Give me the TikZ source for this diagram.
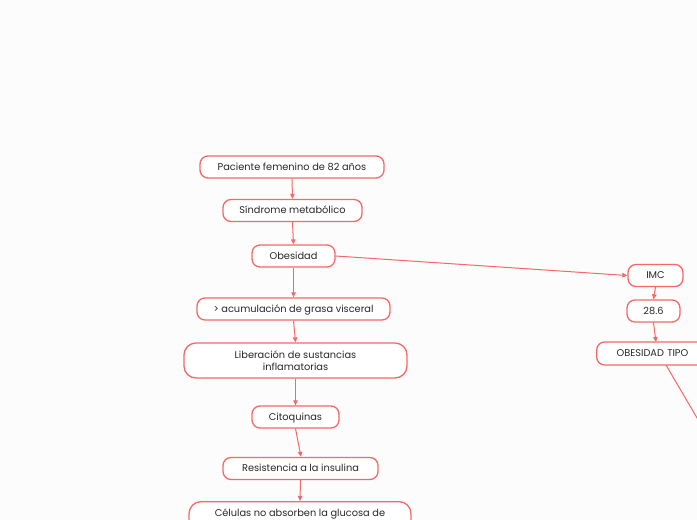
\documentclass[tikz,border=0pt]{standalone}
\usepackage{fontspec}
\setmainfont{Poppins}
\usetikzlibrary{arrows.meta}
\definecolor{coral}{RGB}{245,104,104}
\definecolor{bg}{RGB}{252,252,252}
\definecolor{ink}{RGB}{40,40,40}
\tikzset{
  box/.style={draw=coral, line width=1.3pt, rounded corners=8pt, fill=white, text=ink,
    font=\fontsize{9.8}{11.5}\selectfont, minimum height=22pt, inner xsep=4pt, inner ysep=2pt, align=center},
  sbox/.style={box, text height=8.5pt, text depth=1.7pt},
  conn/.style={draw=coral, line width=1pt, -{Triangle[length=5pt,width=4.5pt]}},
  plainconn/.style={draw=coral, line width=1pt}
}
\begin{document}
\begin{tikzpicture}[x=1pt,y=-1pt]
\useasboundingbox (0,0) rectangle (697,520);
\fill[bg] (0,0) rectangle (697,520);
\clip (0,0) rectangle (697,520);
\node[sbox, minimum width=184pt] (n1) at (292,167) {Paciente femenino de 82 años};
\node[sbox, minimum width=139pt] (n2) at (292.5,210.5) {Síndrome metabólico};
\node[sbox, minimum width=83pt] (n3) at (293.5,256) {Obesidad};
\node[sbox, minimum width=193pt] (n4) at (293.5,309) {> acumulación de grasa visceral};
\node[box, minimum width=223pt, minimum height=35pt, rounded corners=12pt] (n5) at (295.5,360.5) {Liberación de sustancias\\inflamatorias};
\node[sbox, minimum width=87pt] (n6) at (295.5,417) {Citoquinas};
\node[sbox, minimum width=155pt] (n7) at (300.5,468.5) {Resistencia a la insulina};
\node[box, minimum width=222pt, minimum height=35pt, rounded corners=12pt, anchor=north, inner ysep=7.5pt] (n8) at (300,501) {Células no absorben la glucosa de\\\strut};
\node[sbox, minimum width=55pt] (imc) at (655.5,275.5) {IMC};
\node[sbox, minimum width=53pt] (v) at (653.5,311) {28.6};
\node[sbox, minimum width=140pt, minimum height=23pt, anchor=west, text width=126pt, align=left] (tipo) at (596,353.5) {\hspace*{13pt}OBESIDAD TIPO};
\coordinate (tgt) at (656,342);
\coordinate (src) at (666,365);
\coordinate (out) at (700,423);
\draw[conn] (n1.south) -- (n2.north);
\draw[conn] (n2.south) -- (n3.north);
\draw[conn] (n3.south) -- (n4.north);
\draw[conn] (n4.south) -- (n5.north);
\draw[conn] (n5.south) -- (n6.north);
\draw[conn] (n6.south) -- ([xshift=0.5pt]n7.north);
\draw[conn] (n7.south) -- (n8.north);
\draw[conn] (n3.east) -- (imc.west);
\draw[conn] (imc.south) -- (v.north);
\draw[conn] (v.south) -- (tgt);
\draw[plainconn] (src) -- (out);
\end{tikzpicture}
\end{document}
